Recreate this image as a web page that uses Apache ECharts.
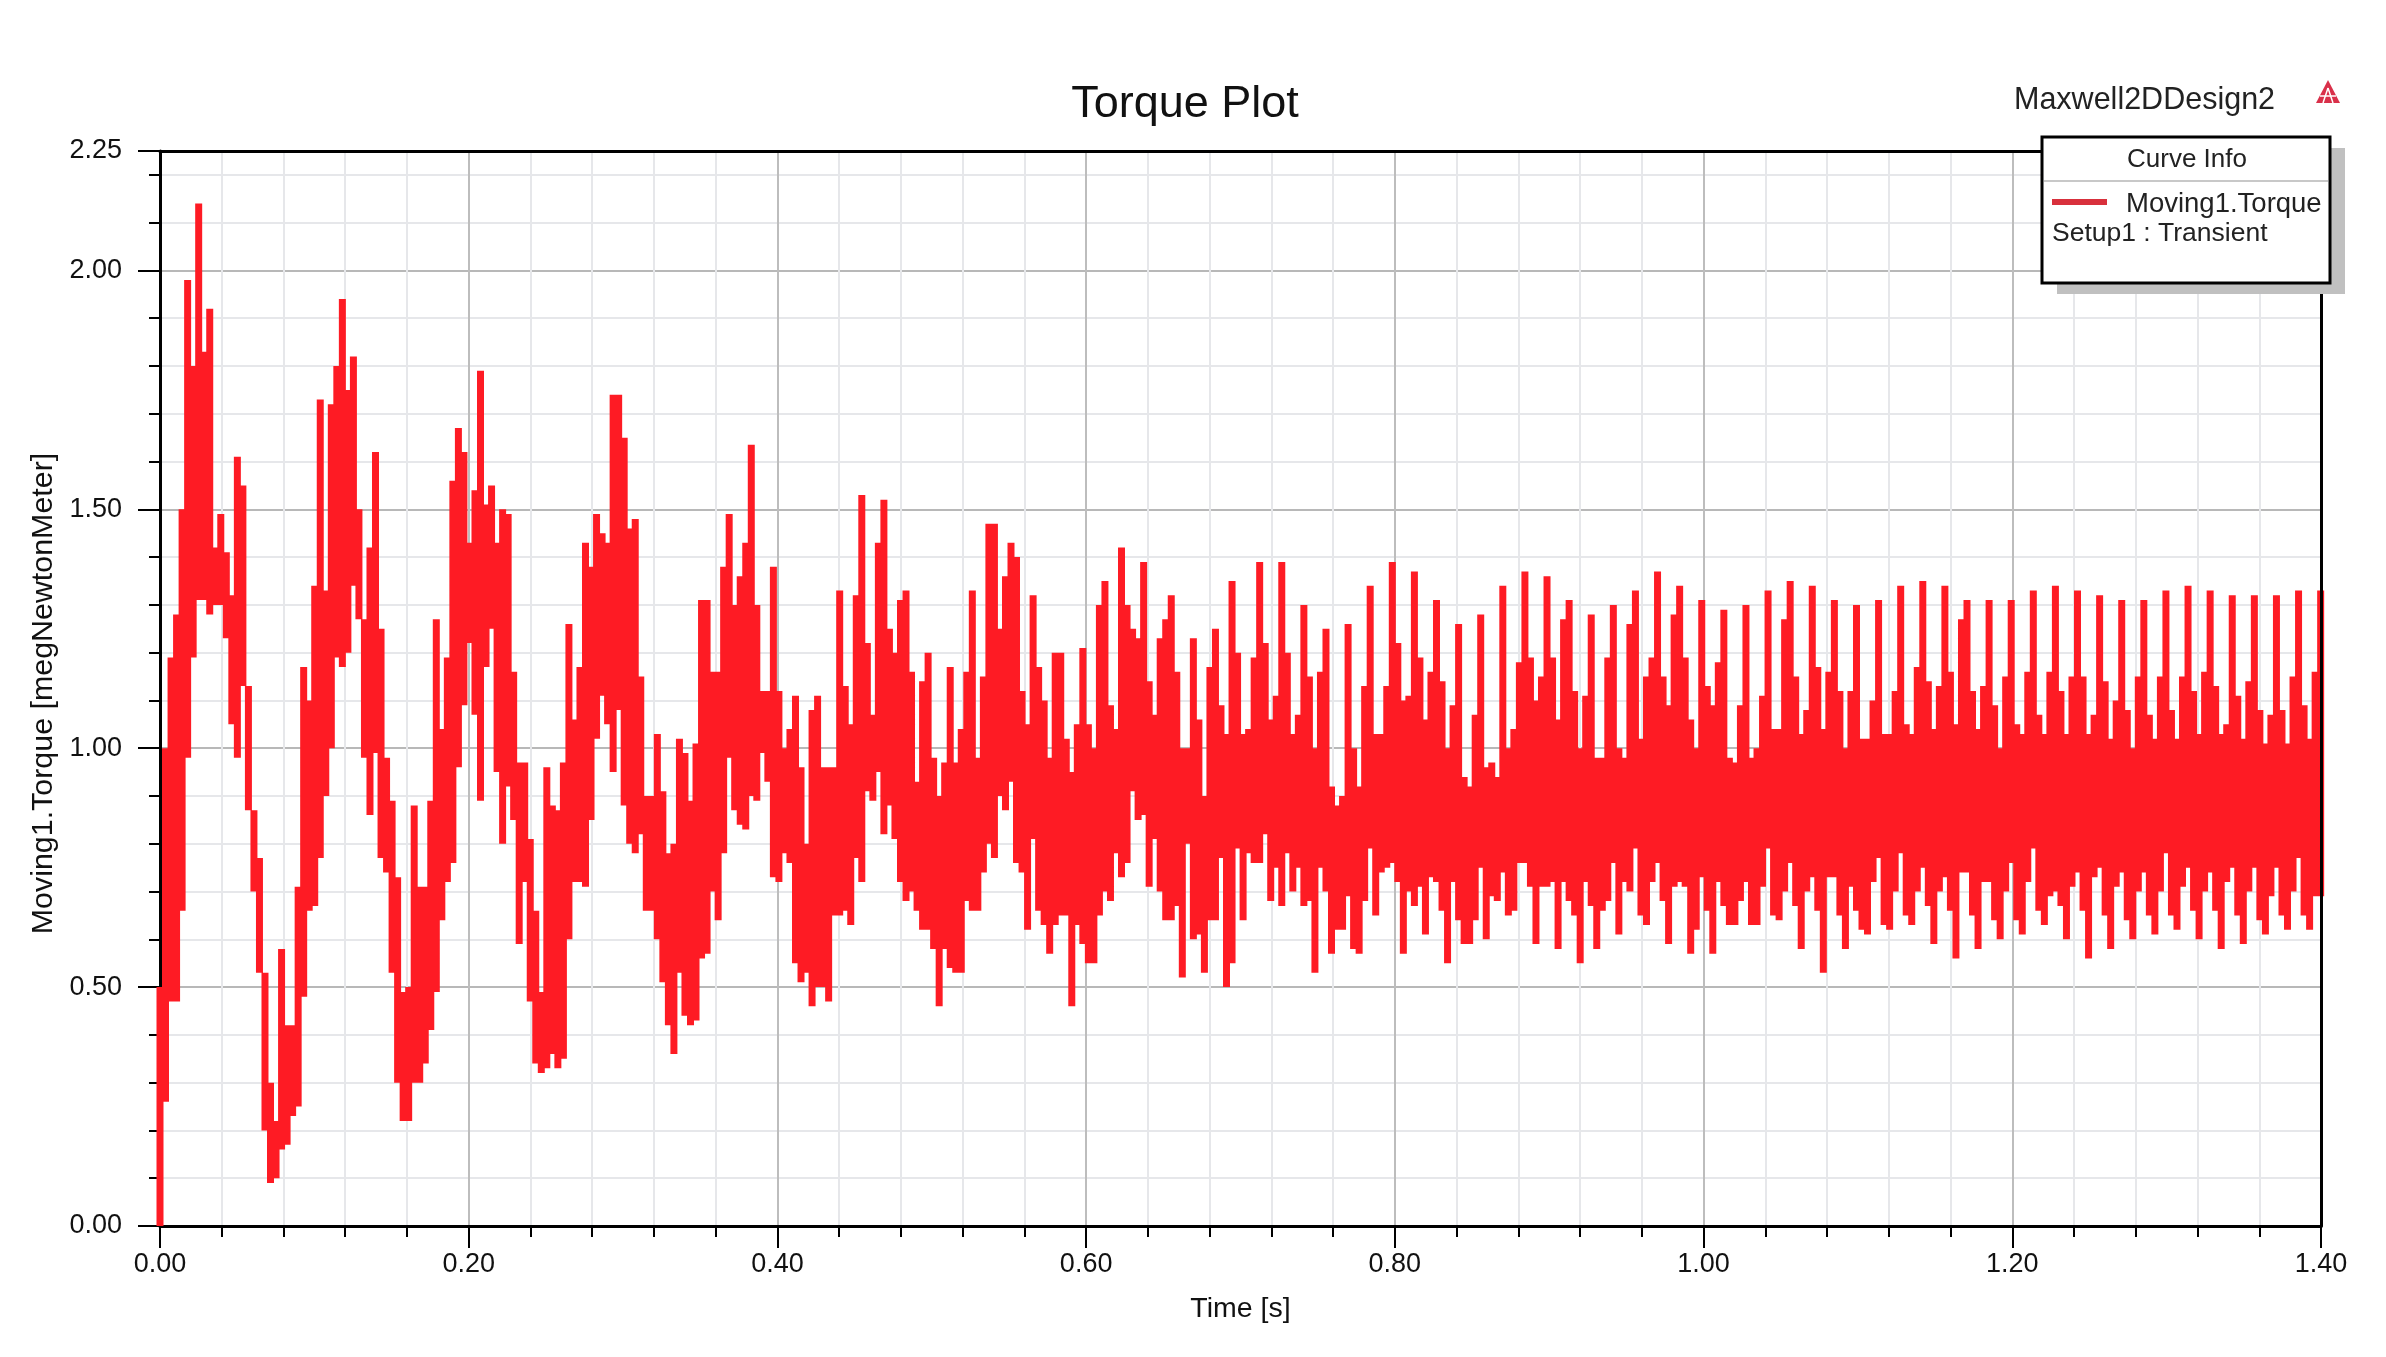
<!DOCTYPE html>
<html lang="en">
<head>
    <meta charset="UTF-8">
    <title>Torque Plot</title>
    <script src="https://cdn.jsdelivr.net/npm/echarts@6/dist/echarts.min.js"></script>
    <style>
        body,html{
            margin: 0;
            background: #fff;
        }
        #chart{
            width: 2386px;
            height: 1357px;
        }
    </style>
</head>
<body>
<div id="chart"></div>
<script type="text/javascript">
    // one column of the trace every sampleStep seconds
    const sampleStep = 0.00358;

    // top edge of the trace in each column [megNewtonMeter]
    const torqueHigh = [
        .50,1.0,1.19,1.28,1.5,1.98,1.8,2.14,1.83,1.92,
        1.42,1.49,1.41,1.32,1.61,1.55,1.13,.87,.77,.53,
        .3,.22,.58,.42,.42,.71,1.17,1.1,1.34,1.73,
        1.33,1.72,1.8,1.94,1.75,1.82,1.5,1.27,1.42,1.62,
        1.25,.98,.89,.73,.49,.5,.88,.71,.71,.89,
        1.27,1.04,1.19,1.56,1.67,1.62,1.43,1.54,1.79,1.51,
        1.55,1.43,1.5,1.49,1.16,.97,.97,.81,.66,.49,
        .96,.88,.87,.97,1.26,1.06,1.17,1.43,1.38,1.49,
        1.45,1.43,1.74,1.74,1.65,1.46,1.48,1.15,.9,.9,
        1.03,.91,.78,.8,1.02,.99,.89,1.01,1.31,1.31,
        1.16,1.16,1.38,1.49,1.3,1.36,1.43,1.635,1.3,1.12,
        1.12,1.38,1.12,1.0,1.04,1.11,.96,.8,1.08,1.11,
        .96,.96,.96,1.33,1.13,1.05,1.32,1.53,1.22,1.07,
        1.43,1.52,1.25,1.2,1.31,1.33,1.16,.93,1.14,1.2,
        .98,.9,.97,1.17,.97,1.04,1.16,1.33,.98,1.15,
        1.47,1.47,1.25,1.36,1.43,1.40,1.12,1.05,1.32,1.17,
        1.1,.98,1.2,1.2,1.02,.95,1.05,1.21,1.05,1.0,
        1.3,1.35,1.09,1.04,1.42,1.3,1.25,1.23,1.39,1.14,
        1.07,1.23,1.27,1.32,1.16,1.0,1.0,1.23,1.06,.9,
        1.17,1.25,1.09,1.03,1.35,1.2,1.03,1.04,1.19,1.39,
        1.22,1.06,1.11,1.39,1.2,1.03,1.07,1.3,1.15,1.0,
        1.16,1.25,.92,.88,.9,1.26,1.0,.92,1.13,1.34,
        1.03,1.03,1.13,1.39,1.22,1.1,1.11,1.37,1.19,1.06,
        1.16,1.31,1.14,1.0,1.09,1.26,.94,.92,1.07,1.28,
        .96,.97,.94,1.34,1.0,1.04,1.18,1.37,1.19,1.1,
        1.15,1.36,1.19,1.06,1.27,1.31,1.12,1.0,1.11,1.28,
        .98,.98,1.19,1.3,1.0,.98,1.26,1.33,1.02,1.15,
        1.19,1.37,1.15,1.09,1.28,1.34,1.19,1.06,1.0,1.31,
        1.13,1.09,1.18,1.29,.98,.97,1.09,1.3,.98,1.0,
        1.11,1.33,1.04,1.04,1.27,1.35,1.15,1.03,1.08,1.34,
        1.17,1.04,1.16,1.31,1.12,1.0,1.12,1.30,1.02,1.02,
        1.1,1.31,1.03,1.03,1.12,1.34,1.05,1.03,1.17,1.35,
        1.14,1.04,1.13,1.34,1.16,1.05,1.27,1.31,1.12,1.04,
        1.13,1.31,1.09,1.0,1.15,1.31,1.05,1.03,1.16,1.33,
        1.07,1.03,1.16,1.34,1.12,1.03,1.15,1.33,1.15,1.03,
        1.07,1.32,1.14,1.02,1.1,1.31,1.08,1.0,1.15,1.31,
        1.07,1.02,1.15,1.33,1.08,1.02,1.15,1.34,1.12,1.03,
        1.16,1.33,1.13,1.03,1.05,1.32,1.11,1.02,1.14,1.32,
        1.08,1.01,1.07,1.32,1.08,1.01,1.15,1.33,1.09,1.02,
        1.16,1.33
    ];

    // bottom edge of the trace in each column [megNewtonMeter]
    const torqueLow = [
        0,.26,.47,.47,.66,.98,1.19,1.31,1.31,1.28,
        1.3,1.3,1.23,1.05,.98,1.13,.87,.70,.53,.2,
        .09,.1,.16,.17,.23,.25,.48,.66,.67,.77,
        .9,1.0,1.19,1.17,1.2,1.34,1.27,.98,.86,.99,
        .77,.74,.53,.3,.22,.22,.3,.3,.34,.41,
        .49,.64,.72,.76,.96,1.09,1.22,1.07,.89,1.17,
        1.25,.95,.8,.92,.85,.59,.72,.47,.34,.32,
        .33,.36,.33,.35,.6,.72,.72,.71,.85,1.02,
        1.11,1.05,.95,1.08,.88,.8,.78,.82,.66,.66,
        .6,.51,.42,.36,.53,.44,.42,.43,.56,.57,
        .7,.64,.78,.98,.87,.84,.83,.9,.89,.99,
        .93,.73,.72,.78,.76,.55,.51,.53,.46,.5,
        .5,.47,.65,.65,.66,.63,.77,.72,.91,.89,
        .95,.82,.88,.81,.72,.68,.7,.66,.62,.62,
        .58,.46,.58,.54,.53,.53,.68,.66,.66,.74,
        .8,.77,.9,.87,.93,.76,.74,.62,.81,.66,
        .63,.57,.63,.65,.65,.46,.63,.59,.55,.55,
        .65,.7,.68,.78,.73,.76,.91,.85,.86,.71,
        .81,.7,.64,.64,.67,.52,.8,.6,.61,.53,
        .64,.64,.77,.5,.55,.79,.64,.78,.76,.76,
        .82,.68,.75,.67,.78,.7,.75,.67,.68,.53,
        .75,.7,.57,.62,.62,.69,.58,.57,.68,.79,
        .65,.74,.75,.76,.72,.57,.7,.67,.71,.61,
        .73,.72,.66,.55,.72,.64,.59,.59,.64,.75,
        .6,.69,.68,.74,.65,.66,.76,.76,.71,.59,
        .71,.71,.72,.58,.72,.68,.65,.55,.72,.67,
        .58,.66,.68,.76,.61,.72,.7,.79,.65,.63,
        .72,.76,.68,.59,.71,.72,.71,.57,.62,.73,
        .66,.57,.72,.67,.63,.63,.68,.72,.63,.63,
        .71,.79,.65,.64,.7,.76,.67,.58,.7,.73,
        .66,.53,.73,.73,.65,.58,.71,.66,.62,.61,
        .72,.77,.63,.62,.7,.78,.65,.63,.7,.75,
        .67,.59,.7,.73,.66,.56,.74,.74,.65,.58,
        .72,.72,.64,.6,.7,.76,.64,.61,.72,.79,
        .66,.63,.69,.7,.67,.6,.71,.74,.66,.56,
        .73,.75,.65,.58,.71,.74,.64,.6,.7,.74,
        .65,.61,.7,.78,.65,.62,.71,.75,.66,.6,
        .7,.74,.66,.58,.72,.75,.65,.59,.7,.75,
        .64,.61,.69,.75,.65,.62,.7,.77,.65,.62,
        .69,.69
    ];

    const chartTitle = "Torque Plot";
    const designName = "Maxwell2DDesign2";
    const curveName = "Moving1.Torque";
    const setupName = "Setup1 : Transient";
    const xName = "Time [s]";
    const yName = "Moving1.Torque [megNewtonMeter]";

    const font = "Liberation Sans";
    const red = "#fe1b24";

    // every column is one vertical stroke, the null breaks the line before the next one
    let trace = [];
    for(let i=0;i<torqueHigh.length;i++){
        let t = i*sampleStep;
        trace.push([t,torqueLow[i]]);
        trace.push([t,torqueHigh[i]]);
        trace.push([t,null]);
    }

    let myChart = echarts.init(document.getElementById("chart"));
    let option = {
        animation:false,
        backgroundColor:"#fff",
        title:{
            text:chartTitle,
            left:1180,
            top:100,
            textAlign:"center",
            textVerticalAlign:"middle",
            textStyle:{fontFamily:font,fontSize:45,fontWeight:"normal",color:"#111"}
        },
        grid:{
            left:160,
            right:65,
            top:151,
            bottom:131,
            outerBoundsMode:"none"
        },
        xAxis:[
            {
                type:"value",
                min:0,
                max:1.4,
                interval:0.2,
                name:xName,
                nameLocation:"middle",
                nameGap:69,
                nameTextStyle:{fontFamily:font,fontSize:28.5,color:"#111"},
                axisLine:{onZero:false,lineStyle:{color:"#000",width:3}},
                axisTick:{length:22,lineStyle:{color:"#000",width:2}},
                minorTick:{show:true,splitNumber:5,length:11,lineStyle:{color:"#000",width:2}},
                axisLabel:{fontFamily:font,fontSize:27,color:"#111",margin:25,formatter:function(v){return v.toFixed(2);}},
                splitLine:{show:true,lineStyle:{color:"#bdbdbd",width:2}},
                minorSplitLine:{show:true,lineStyle:{color:"#e6e7ea",width:2}}
            },
            // only the frame line along the top
            {
                type:"value",
                position:"top",
                min:0,
                max:1.4,
                axisLine:{show:true,onZero:false,lineStyle:{color:"#000",width:3}},
                axisTick:{show:false},
                axisLabel:{show:false},
                splitLine:{show:false}
            }
        ],
        yAxis:[
            // fine grid every 0.1, the labelled axis goes on top of it
            {
                type:"value",
                position:"left",
                min:0,
                max:2.25,
                interval:0.1,
                axisLine:{show:false},
                axisTick:{show:true,length:11,lineStyle:{color:"#000",width:2}},
                axisLabel:{show:false},
                splitLine:{show:true,lineStyle:{color:"#e6e7ea",width:2}}
            },
            {
                type:"value",
                position:"left",
                min:0,
                max:2.25,
                interval:0.5,
                name:yName,
                nameLocation:"middle",
                nameGap:96,
                nameTextStyle:{fontFamily:font,fontSize:30.4,color:"#111",padding:[0,10,0,0]},
                axisLine:{show:true,onZero:false,lineStyle:{color:"#000",width:3}},
                axisTick:{show:true,length:22,lineStyle:{color:"#000",width:2}},
                axisLabel:{fontFamily:font,fontSize:27,color:"#111",margin:38,formatter:function(v){return v.toFixed(2);}},
                splitLine:{show:true,lineStyle:{color:"#b8b8b8",width:2}}
            },
            // only the frame line on the right
            {
                type:"value",
                position:"right",
                min:0,
                max:2.25,
                axisLine:{show:true,onZero:false,lineStyle:{color:"#000",width:3}},
                axisTick:{show:false},
                axisLabel:{show:false},
                splitLine:{show:false},
                z:5
            }
        ],
        series:[
            {
                name:curveName,
                type:"line",
                yAxisIndex:1,
                data:trace,
                symbol:"none",
                showSymbol:false,
                connectNulls:false,
                silent:true,
                lineStyle:{color:red,width:7,cap:"butt",join:"miter"}
            }
        ],
        graphic:[
            {type:"text",left:2014,top:85,z:20,style:{text:designName,fontFamily:font,fontSize:30.5,fill:"#222"}},
            // small logo next to the design name
            {type:"polygon",z:20,shape:{points:[[2328,80],[2340,103],[2316,103]]},style:{fill:"#d9304a"}},
            {type:"line",z:21,shape:{x1:2328,y1:88,x2:2323,y2:103},style:{stroke:"#fff",lineWidth:1.5}},
            {type:"line",z:21,shape:{x1:2328,y1:88,x2:2333,y2:103},style:{stroke:"#fff",lineWidth:1.5}},
            {type:"line",z:21,shape:{x1:2320,y1:96,x2:2336,y2:96},style:{stroke:"#fff",lineWidth:1.5}},
            // curve info box
            {type:"rect",z:30,shape:{x:2057,y:148,width:288,height:146},style:{fill:"#c0c0c0"}},
            {type:"rect",z:31,shape:{x:2042,y:137,width:288,height:146},style:{fill:"#fff",stroke:"#000",lineWidth:3}},
            {type:"line",z:32,shape:{x1:2044,y1:181,x2:2328,y2:181},style:{stroke:"#c8c8c8",lineWidth:2}},
            {type:"text",z:32,x:2187,y:159.5,style:{text:"Curve Info",fontFamily:font,fontSize:26,fill:"#222",align:"center",verticalAlign:"middle"}},
            {type:"line",z:32,shape:{x1:2052,y1:202,x2:2107,y2:202},style:{stroke:"#d8303c",lineWidth:6}},
            {type:"text",z:32,x:2126,y:204,style:{text:curveName,fontFamily:font,fontSize:27.5,fill:"#222",verticalAlign:"middle"}},
            {type:"text",z:32,x:2052,y:233.5,style:{text:setupName,fontFamily:font,fontSize:26.5,fill:"#222",verticalAlign:"middle"}}
        ]
    };
    myChart.setOption(option);
</script>
</body>
</html>
